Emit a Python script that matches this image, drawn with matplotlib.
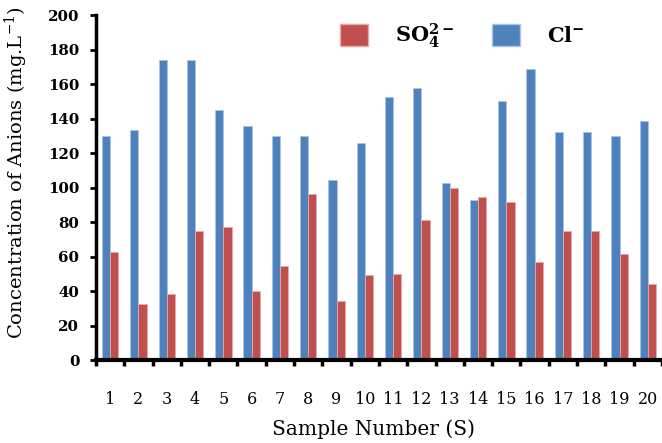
import numpy as np
import matplotlib.pyplot as plt
from matplotlib.patches import Patch

samples = [str(i) for i in range(1, 21)]
chloride = [130, 133.5, 174, 174, 144.7, 135.7, 130, 130, 104.3, 125.6,
            152.6, 158, 102.6, 92.6, 150, 168.5, 132.4, 132.4, 130, 138.7]
sulfate = [62.4, 32.3, 38.5, 74.8, 77.3, 40, 54.5, 96.4, 34.2, 49.1,
           50.2, 81.5, 99.5, 94.7, 91.6, 56.6, 75, 75, 61.4, 44.2]

blue = '#4F81BD'
red = '#C0504D'
plt.rcParams['font.family'] = ['DejaVu Serif']
plt.rcParams['mathtext.fontset'] = 'dejavuserif'

fig = plt.figure(figsize=(6.62, 4.43), dpi=100)
ax = fig.add_axes([0.145, 0.187, 0.855, 0.779])

x = np.arange(1, len(samples) + 1)
w = 0.29
ax.bar(x - w / 2, chloride, w, color=blue, edgecolor='#a9c4e8', linewidth=0.6)
ax.bar(x + w / 2, sulfate, w, color=red, edgecolor='#e8a9a8', linewidth=0.6)

ax.set_xlim(0.5, 20.5)
ax.set_ylim(0, 200)
ax.set_yticks(range(0, 201, 20))
ax.tick_params(axis='y', direction='out', length=4, width=2, labelsize=10.8, pad=8)
for lab in ax.get_yticklabels():
    lab.set_fontweight('bold')

ax.set_xticks(x)
ax.set_xticklabels(samples, fontsize=11.5)
ax.tick_params(axis='x', which='major', length=0, pad=22)
ax.set_xticks(np.arange(0.5, 20.6, 1), minor=True)
ax.tick_params(axis='x', which='minor', direction='out', length=4, width=2.5)

for s in ['top', 'right']:
    ax.spines[s].set_visible(False)
ax.spines['left'].set_linewidth(2.5)
ax.spines['bottom'].set_linewidth(3)

ax.set_ylabel('Concentration of Anions (mg.L$^{-1}$)', fontsize=14)
ax.yaxis.set_label_coords(-0.116, 0.542)
ax.set_xlabel('Sample Number (S)', fontsize=14.5)
ax.xaxis.set_label_coords(0.49, -0.172)

handles = [Patch(facecolor=red, edgecolor='#e8a9a8'),
           Patch(facecolor=blue, edgecolor='#a9c4e8')]
ax.legend(handles, [r'$\mathbf{SO_4^{2-}}$', r'$\mathbf{Cl^{-}}$'], ncol=2,
          frameon=False, loc='center left', bbox_to_anchor=(0.431, 0.94),
          borderpad=0, borderaxespad=0, handlelength=1.35, handleheight=1.3,
          columnspacing=1.8, handletextpad=1.3,
          prop={'size': 15, 'weight': 'bold'})

fig.savefig('out.png', dpi=100)
plt.close(fig)
